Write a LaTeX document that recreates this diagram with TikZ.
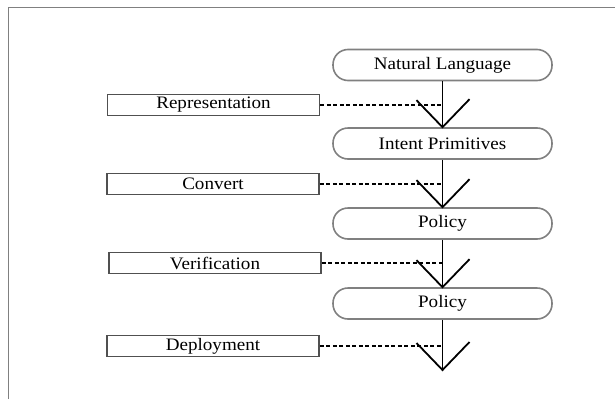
\documentclass[tikz,border=0pt]{standalone}
\usepackage{fontspec}
\setmainfont{Liberation Serif}[FakeStretch=1.09]
\usetikzlibrary{calc}
\definecolor{framegray}{HTML}{808080}
\definecolor{roundgray}{HTML}{808080}
\definecolor{rectgray}{HTML}{505050}
\begin{document}
\begin{tikzpicture}[x=1pt,y=-1pt,
  every node/.style={font=\fontsize{17.5}{20}\selectfont, text=black, inner sep=0pt},
  stage/.style={draw=roundgray, line width=1.6pt, rounded corners=15pt,
    minimum width=219pt, minimum height=31pt},
  action/.style={draw=rectgray, line width=1.7pt,
    minimum width=212pt, minimum height=21pt},
  flow/.style={line width=1.8pt, black},
  link/.style={line width=1.4pt, black, dash pattern=on 4pt off 2.5pt},
  vee/.style={line width=1.8pt, black, line join=miter}]
\useasboundingbox (0,0) rectangle (615,399);
\draw[framegray, line width=1.8pt] (8.5,399) -- (8.5,7.5) -- (615,7.5);

\node[stage] (nl) at (442.5,65) {Natural Language};
\node[stage] (ip) at (442.5,143.5) {Intent Primitives};
\node[stage] (p1) at (442.5,223.5) {Policy};
\node[stage] (p2) at (442.5,303.5) {Policy};
\coordinate (end) at (442.5,370);

\node[action] (rep) at (213.5,105) {Representation};
\node[action] (conv) at (213,184) {Convert};
\node[action] (ver) at (215,263) {Verification};
\node[action] (dep) at (213,346) {Deployment};

\draw[flow] (nl.south) -- (ip.north);
\draw[flow] (ip.south) -- (p1.north);
\draw[flow] (p1.south) -- (p2.north);
\draw[flow] (p2.south) -- (end);

\foreach \t in {ip.north,p1.north,p2.north,end}{
  \draw[vee] ($(\t)+(-26,-27)$) -- (\t) -- ++(27,-28);
}

\draw[link] (rep.east) -- (rep.east -| nl.south);
\draw[link] (conv.east) -- (conv.east -| nl.south);
\draw[link] (ver.east) -- (ver.east -| nl.south);
\draw[link] (dep.east) -- (dep.east -| nl.south);
\end{tikzpicture}
\end{document}
